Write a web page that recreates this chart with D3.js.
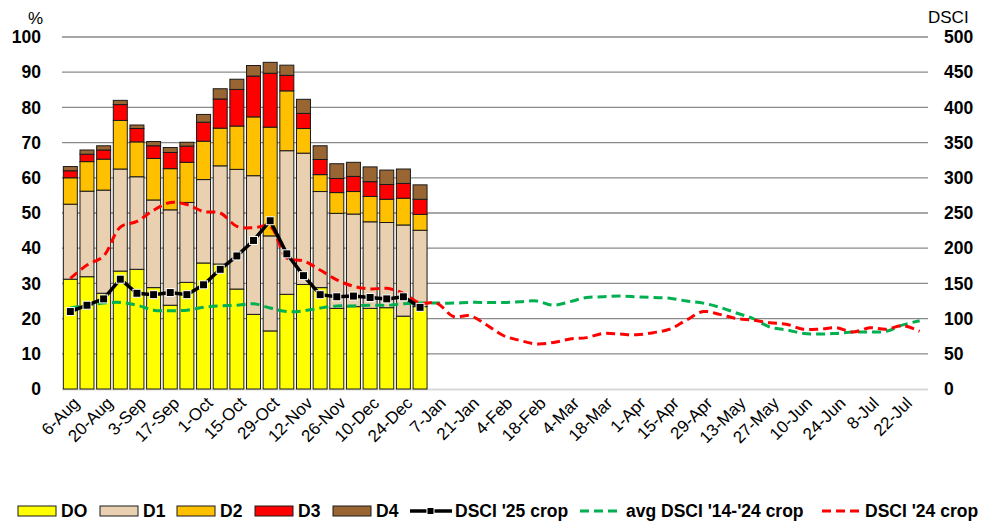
<!DOCTYPE html>
<html>
<head>
<meta charset="utf-8">
<script src="https://cdn.jsdelivr.net/npm/d3@7"></script>
<style>
  body { margin: 0; background: #fff; }
  svg { display: block; font-family: "Liberation Sans", Arial, sans-serif; }
</style>
</head>
<body>
<svg width="987" height="521"></svg>
<script>
// Week labels (crop year, weekly)
const weeks = ["6-Aug","13-Aug","20-Aug","27-Aug","3-Sep","10-Sep","17-Sep","24-Sep","1-Oct","8-Oct",
  "15-Oct","22-Oct","29-Oct","5-Nov","12-Nov","19-Nov","26-Nov","3-Dec","10-Dec","17-Dec","24-Dec","31-Dec",
  "7-Jan","14-Jan","21-Jan","28-Jan","4-Feb","11-Feb","18-Feb","25-Feb","4-Mar","11-Mar","18-Mar","25-Mar",
  "1-Apr","8-Apr","15-Apr","22-Apr","29-Apr","6-May","13-May","20-May","27-May","3-Jun","10-Jun","17-Jun",
  "24-Jun","1-Jul","8-Jul","15-Jul","22-Jul","29-Jul"];

// Drought categories, % of area (each category alone, stacked)
const DO = [31.2,31.9,27.2,33.5,34.0,28.8,23.8,30.3,35.8,35.5,28.4,21.2,16.5,26.9,29.7,28.8,22.9,23.4,22.9,23.1,20.7,23.4];
const D1 = [21.3,24.3,29.3,29.0,26.3,24.9,27.1,22.7,23.7,27.9,34.0,39.4,27.0,40.8,37.3,27.3,27.0,26.3,24.6,24.2,25.9,21.7];
const D2 = [7.5,8.4,8.8,13.8,9.9,11.8,11.7,11.4,10.9,10.7,12.3,16.7,30.9,17.0,7.0,4.8,5.9,6.4,7.2,6.6,7.6,4.5];
const D3 = [2.0,2.1,2.6,4.5,3.8,3.6,4.6,4.6,5.4,8.3,10.4,11.6,15.3,4.4,4.3,4.3,4.0,4.3,4.2,4.2,4.2,4.3];
const D4 = [1.2,1.2,1.2,1.2,1.0,1.2,1.4,1.1,2.2,2.9,2.9,3.0,3.1,2.9,4.0,3.9,4.2,4.0,4.2,4.1,4.1,4.1];

// DSCI series (right axis)
const dsci25 = [110,119,128,156,136,134,137,134,148,170,189,211,239,192,161,134,131,132,130,128,131,116];
const dsciAvg = [115,119,122,123,119,112,111,112,116,118,119,121,115,110,111,115,118,118,119,119,121,122,
  122,122,123,123,123,124,125,119,124,130,131,132,131,130,129,125,122,116,108,100,88,84,79,78,79,81,81,82,91,97];
const dsci24 = [157,176,189,230,238,254,265,262,252,250,231,229,231,186,182,169,155,146,142,143,136,122,
  122,103,104,91,76,69,64,66,71,73,79,78,77,80,85,98,110,106,100,98,94,92,85,85,87,81,87,85,90,82];

const pctTicks = [0,10,20,30,40,50,60,70,80,90,100];
const dsciTicks = [0,50,100,150,200,250,300,350,400,450,500];

const catNames = ["DO","D1","D2","D3","D4"];
const catColors = ["#ffff00","#e8d0b0","#ffc000","#ff0000","#996633"];

const svg = d3.select("svg");
const plotLeft = 62, plotRight = 928, plotTop = 37, plotBottom = 389;

const x = d3.scaleBand().domain(weeks).range([plotLeft, plotRight]).paddingInner(0.16).paddingOuter(0.08);
const y = d3.scaleLinear().domain([0, 100]).range([plotBottom, plotTop]);
const y2 = d3.scaleLinear().domain([0, 500]).range([plotBottom, plotTop]);
const cx = d => x(d) + x.bandwidth() / 2;

// Gridlines
svg.append("g").selectAll("line")
  .data(pctTicks.filter(t => t > 0))
  .enter().append("line")
  .attr("x1", plotLeft).attr("x2", plotRight)
  .attr("y1", d => y(d)).attr("y2", d => y(d))
  .attr("stroke", "#8a8a8a").attr("stroke-width", 1.3);

svg.append("line")
  .attr("x1", plotLeft).attr("x2", plotRight)
  .attr("y1", plotBottom + 0.5).attr("y2", plotBottom + 0.5)
  .attr("stroke", "#d9d9d9").attr("stroke-width", 2);

// Left axis labels
svg.append("g").selectAll("text")
  .data(pctTicks).enter().append("text")
  .attr("x", 41).attr("y", d => y(d)).attr("dy", "0.35em")
  .attr("text-anchor", "end")
  .style("font-size", "17.5px").style("font-weight", "bold")
  .text(d => d);

// Right axis labels
svg.append("g").selectAll("text")
  .data(dsciTicks).enter().append("text")
  .attr("x", 944).attr("y", d => y2(d)).attr("dy", "0.35em")
  .attr("text-anchor", "start")
  .style("font-size", "17.5px").style("font-weight", "bold")
  .text(d => d);

svg.append("text").attr("x", 43).attr("y", 24).attr("text-anchor", "end")
  .style("font-size", "17px").text("%");
svg.append("text").attr("x", 928).attr("y", 23)
  .style("font-size", "17px").text("DSCI");

// Stacked bars
const rows = DO.map((v, i) => ({ week: weeks[i], DO: v, D1: D1[i], D2: D2[i], D3: D3[i], D4: D4[i] }));
const stacked = d3.stack().keys(catNames)(rows);

svg.append("g").selectAll("g")
  .data(stacked).enter().append("g")
  .attr("fill", (d, i) => catColors[i])
  .selectAll("rect")
  .data(d => d).enter().append("rect")
  .attr("x", d => x(d.data.week))
  .attr("width", x.bandwidth())
  .attr("y", d => y(d[1]))
  .attr("height", d => y(d[0]) - y(d[1]))
  .attr("stroke", "#1a1a1a").attr("stroke-width", 1);

// X labels, every other week
svg.append("g").selectAll("text")
  .data(weeks.filter((d, i) => i % 2 === 0))
  .enter().append("text")
  .attr("transform", d => "translate(" + (cx(d) + 6) + "," + 400 + ") rotate(-45)")
  .attr("text-anchor", "end")
  .attr("dy", "0.35em")
  .style("font-size", "17px")
  .text(d => d);

// Lines
const smooth = d3.line().x((d, i) => cx(weeks[i])).y(d => y2(d)).curve(d3.curveCatmullRom.alpha(0.5));
const straight = d3.line().x((d, i) => cx(weeks[i])).y(d => y2(d));

svg.append("path").attr("d", smooth(dsciAvg))
  .attr("fill", "none").attr("stroke", "#00b050").attr("stroke-width", 3).attr("stroke-dasharray", "9,5");
svg.append("path").attr("d", smooth(dsci24))
  .attr("fill", "none").attr("stroke", "#ff0000").attr("stroke-width", 3).attr("stroke-dasharray", "9,5");
svg.append("path").attr("d", straight(dsci25))
  .attr("fill", "none").attr("stroke", "#000").attr("stroke-width", 3.5);

svg.append("g").selectAll("rect")
  .data(dsci25).enter().append("rect")
  .attr("x", (d, i) => cx(weeks[i]) - 4)
  .attr("y", d => y2(d) - 4)
  .attr("width", 8).attr("height", 8)
  .attr("fill", "#000").attr("stroke", "#fff").attr("stroke-width", 1);

// Legend
const legY = 511;
const boxLegend = [
  { name: "DO", x: 18 }, { name: "D1", x: 100 }, { name: "D2", x: 177 },
  { name: "D3", x: 255 }, { name: "D4", x: 333 }
];
const leg = svg.append("g").style("font-size", "17.5px").style("font-weight", "bold");
boxLegend.forEach((d, i) => {
  leg.append("rect").attr("x", d.x).attr("y", legY - 5).attr("width", 38).attr("height", 10)
    .attr("fill", catColors[i]).attr("stroke", "#1a1a1a").attr("stroke-width", 1);
  leg.append("text").attr("x", d.x + 43).attr("y", legY).attr("dy", "0.35em").text(d.name);
});

// DSCI '25 legend
leg.append("line").attr("x1", 410).attr("x2", 452).attr("y1", legY).attr("y2", legY)
  .attr("stroke", "#000").attr("stroke-width", 3.5);
leg.append("rect").attr("x", 427).attr("y", legY - 3.5).attr("width", 7).attr("height", 7)
  .attr("fill", "#000").attr("stroke", "#fff").attr("stroke-width", 1);
leg.append("text").attr("x", 455).attr("y", legY).attr("dy", "0.35em").text("DSCI '25 crop");

leg.append("line").attr("x1", 580).attr("x2", 619).attr("y1", legY).attr("y2", legY)
  .attr("stroke", "#00b050").attr("stroke-width", 3).attr("stroke-dasharray", "9,5");
leg.append("text").attr("x", 626).attr("y", legY).attr("dy", "0.35em").text("avg DSCI '14-'24 crop");

leg.append("line").attr("x1", 822).attr("x2", 860).attr("y1", legY).attr("y2", legY)
  .attr("stroke", "#ff0000").attr("stroke-width", 3).attr("stroke-dasharray", "9,5");
leg.append("text").attr("x", 865).attr("y", legY).attr("dy", "0.35em").text("DSCI '24 crop");
</script>
</body>
</html>
